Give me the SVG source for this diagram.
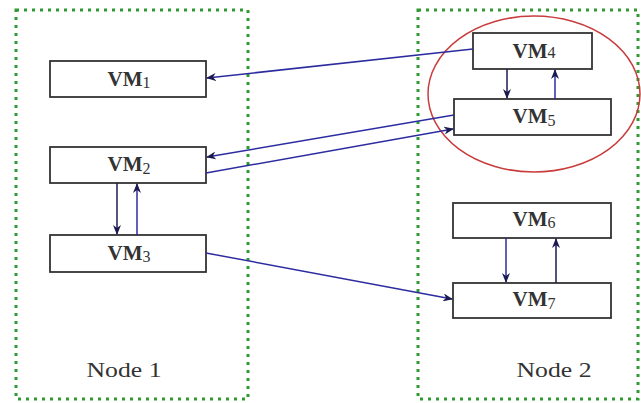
<svg xmlns="http://www.w3.org/2000/svg" width="641" height="403" viewBox="0 0 641 403">
<style>
.node{fill:none;stroke:#2f9a2f;stroke-width:3;stroke-dasharray:3 5}
.vm{fill:#fff;stroke:#333;stroke-width:1.8}
.lbl{font-family:"Liberation Serif",serif;font-size:21px;fill:#333;text-anchor:middle;font-weight:bold}
.sub{font-size:16px;font-weight:normal}
.nl{font-family:"Liberation Serif",serif;font-size:21px;fill:#333;text-anchor:middle}
.c{stroke:#2c2ca0;stroke-width:1.5;fill:none;marker-end:url(#ah)}
.cd{stroke:#1a1a50;stroke-width:1.5;fill:none;marker-end:url(#ahd)}
</style>
<defs>
<marker id="ah" markerWidth="10" markerHeight="8" refX="9" refY="4" orient="auto" markerUnits="userSpaceOnUse"><path d="M0,0 L10,4 L0,8 L3,4 z" fill="#1a1a50"/></marker>
<marker id="ahd" markerWidth="10" markerHeight="8" refX="9" refY="4" orient="auto" markerUnits="userSpaceOnUse"><path d="M0,0 L10,4 L0,8 L3,4 z" fill="#1a1a50"/></marker>
</defs>
<rect width="641" height="403" fill="#fff"/>
<g id="node1">
<rect class="node" x="16" y="10" width="232" height="389"/>
<text class="nl" x="124" y="377" textLength="75" lengthAdjust="spacingAndGlyphs">Node 1</text>
</g>
<g id="node2">
<rect class="node" x="418" y="10" width="220" height="389"/>
<text class="nl" x="554" y="377" textLength="75" lengthAdjust="spacingAndGlyphs">Node 2</text>
</g>
<g id="group">
<ellipse cx="534" cy="94" rx="106" ry="78" fill="none" stroke="#c83c3c" stroke-width="1.5"/>
</g>
<g id="vm1"><rect class="vm" x="50" y="61" width="156" height="36"/><text class="lbl" x="129" y="86">VM<tspan class="sub" dy="2">1</tspan></text></g>
<g id="vm2"><rect class="vm" x="50" y="147" width="156" height="36"/><text class="lbl" x="129" y="171">VM<tspan class="sub" dy="3">2</tspan></text></g>
<g id="vm3"><rect class="vm" x="50" y="235" width="156" height="37"/><text class="lbl" x="129" y="260">VM<tspan class="sub" dy="2">3</tspan></text></g>
<g id="vm4"><rect class="vm" x="473" y="33" width="119" height="36"/><text class="lbl" x="534" y="58">VM<tspan class="sub" dy="0">4</tspan></text></g>
<g id="vm5"><rect class="vm" x="454" y="99" width="157" height="36"/><text class="lbl" x="534" y="123">VM<tspan class="sub" dy="3">5</tspan></text></g>
<g id="vm6"><rect class="vm" x="453" y="203" width="158" height="35"/><text class="lbl" x="534" y="226">VM<tspan class="sub" dy="2">6</tspan></text></g>
<g id="vm7"><rect class="vm" x="453" y="283" width="158" height="35"/><text class="lbl" x="534" y="306">VM<tspan class="sub" dy="3">7</tspan></text></g>
<g id="connectors">
<line class="c" x1="473" y1="49" x2="207" y2="78"/>
<line class="c" x1="454" y1="115" x2="207" y2="157"/>
<line class="c" x1="206" y1="173" x2="453" y2="129"/>
<line class="c" x1="206" y1="253" x2="452" y2="299"/>
<line class="cd" x1="117" y1="183" x2="117" y2="234"/>
<line class="c" x1="137" y1="235" x2="137" y2="184"/>
<line class="cd" x1="507" y1="69" x2="507" y2="98"/>
<line class="c" x1="555" y1="99" x2="555" y2="70"/>
<line class="c" x1="506" y1="238" x2="506" y2="282"/>
<line class="cd" x1="556" y1="283" x2="556" y2="239"/>
</g>
</svg>
